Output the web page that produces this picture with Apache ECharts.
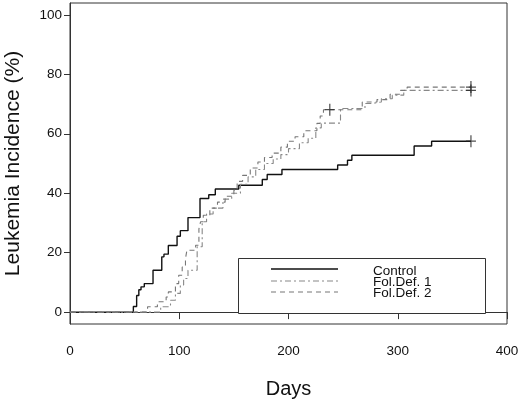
<!DOCTYPE html>
<html>
<head>
<meta charset="utf-8">
<script src="https://cdn.jsdelivr.net/npm/echarts@6/dist/echarts.min.js"></script>
<style>html,body{margin:0;padding:0;background:#fff}#c{width:520px;height:404px}</style>
</head>
<body>
<div id="c"></div>
<script>
// Kaplan-Meier style cumulative incidence: [day, percent]
var control = [[0,0],[58,1.9],[61,5.6],[63,7.5],[65,8.5],[68,9.6],[76,14.1],[84,18.6],[86,19.5],[90,22.4],[98,25.5],[101,27.4],[108,31.8],[119,38.2],[127,39.5],[133,41.4],[154.5,42.7],[176,44.6],[180.5,46.3],[194,48],[245,49.5],[254,51.1],[258,52.8],[315,55.9],[331,57.5],[367,57.5]];
var folDef1 = [[0,0],[83,1.8],[92,4],[96.5,6.3],[101,9.1],[104,11.3],[108,14.1],[116.4,22],[121,30.4],[125,33],[131,35],[140,38],[148,40],[156,43],[163,45.5],[170,48],[178,50],[186,51.5],[193,53],[200,55],[210,57],[218,58.5],[225,62],[230,63.6],[247.6,68.5],[270,70.2],[276.6,70.7],[285,71.8],[295,73],[305.5,74.6],[367,74.6]];
var folDef2 = [[0,0],[71,1.8],[80,3.5],[88,5.1],[90,6.8],[96.5,9.6],[99.5,12.4],[102.7,15.2],[105.7,18],[107,20.8],[115,22.5],[118,28],[119.5,30.4],[122,32.6],[128,35],[135,37],[142,39],[150,41],[153,44],[158,46],[165,48.5],[172,50.5],[178,52],[185,53.5],[193,55.5],[199,57.5],[206,59],[214,61],[226,63.5],[229,66],[232,68.1],[267.5,70.7],[281,71.5],[293,73.3],[302.5,74.6],[308.6,75.7],[367,75.7]];
var censored = [[237.8,68.1],[367,57.5],[367,75.7],[367,74.6]];
var seriesNames = ['Control','Fol.Def. 1','Fol.Def. 2'];
var yTicks = [0,20,40,60,80,100];

var FONT = 'Liberation Sans, Arial, sans-serif';
var chart = echarts.init(document.getElementById('c'), null, {renderer:'canvas'});
var plus = 'path://M4.4,0H5.6V5.4H10V6.6H5.6V12H4.4V6.6H0V5.4H4.4Z';
chart.setOption({
  animation:false,
  backgroundColor:'#fff',
  grid:{left:70,top:3,right:13,bottom:80,show:true,borderColor:'#333',borderWidth:1,containLabel:false,outerBoundsMode:'none'},
  xAxis:{type:'value',min:0,max:400,interval:100,
    name:'Days',nameLocation:'middle',nameGap:55,
    nameTextStyle:{fontFamily:FONT,fontSize:20,color:'#111'},
    axisLine:{show:true,lineStyle:{color:'#333',width:1}},
    axisTick:{show:true,inside:false,length:7,lineStyle:{color:'#333'}},
    axisLabel:{margin:20,fontFamily:FONT,fontSize:13.5,color:'#111'},
    splitLine:{show:false}},
  yAxis:{type:'value',min:-4,max:104,
    name:'Leukemia Incidence (%)',nameLocation:'middle',nameGap:46,
    nameTextStyle:{fontFamily:FONT,fontSize:21,color:'#111'},
    axisLine:{show:true,lineStyle:{color:'#333',width:1}},
    axisTick:{show:true,inside:false,length:6,customValues:yTicks,lineStyle:{color:'#333'}},
    axisLabel:{margin:8,fontFamily:FONT,fontSize:13.5,color:'#111',customValues:yTicks},
    splitLine:{show:false}},
  series:[
    {name:seriesNames[0],type:'line',step:'end',data:control,showSymbol:false,
      lineStyle:{color:'#111',width:1.4,type:'solid'}},
    {name:seriesNames[1],type:'line',step:'end',data:folDef1,showSymbol:false,
      lineStyle:{color:'#888',width:1.1,type:[6,3,2,3]}},
    {name:seriesNames[2],type:'line',step:'end',data:folDef2,showSymbol:false,
      lineStyle:{color:'#777',width:1.1,type:[5,4]}},
    {type:'scatter',data:censored,symbol:plus,symbolSize:[10,12],
      itemStyle:{color:'#222'},z:5}
  ],
  graphic:[
    {type:'rect',shape:{x:238.5,y:258.5,width:247,height:55},style:{fill:'#fff',stroke:'#333',lineWidth:1},z:10},
    {type:'line',shape:{x1:271,y1:269,x2:338,y2:269},style:{stroke:'#111',lineWidth:1.4},z:11},
    {type:'line',shape:{x1:271,y1:281,x2:338,y2:281},style:{stroke:'#888',lineWidth:1.1,lineDash:[6,3,2,3]},z:11},
    {type:'line',shape:{x1:271,y1:292,x2:338,y2:292},style:{stroke:'#777',lineWidth:1.1,lineDash:[5,4]},z:11},
    {type:'text',x:373,y:271,style:{text:seriesNames[0],font:'13.5px '+FONT,fill:'#111',verticalAlign:'middle'},z:11},
    {type:'text',x:373,y:282.5,style:{text:seriesNames[1],font:'13.5px '+FONT,fill:'#111',verticalAlign:'middle'},z:11},
    {type:'text',x:373,y:293.5,style:{text:seriesNames[2],font:'13.5px '+FONT,fill:'#111',verticalAlign:'middle'},z:11}
  ]
});
</script>
</body>
</html>
